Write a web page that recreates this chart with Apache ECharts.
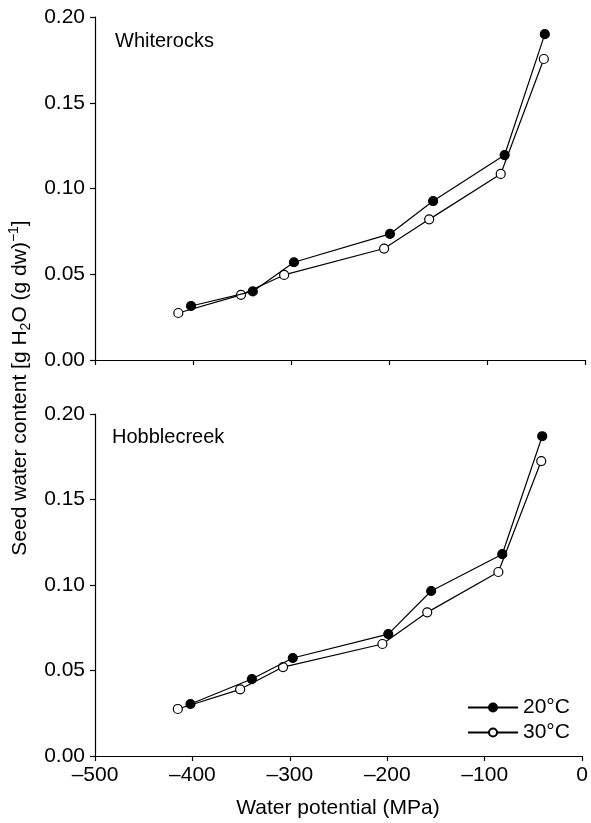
<!DOCTYPE html>
<html>
<head>
<meta charset="utf-8">
<script src="https://cdn.jsdelivr.net/npm/echarts@6/dist/echarts.min.js"></script>
<style>
  html, body { margin: 0; padding: 0; background: #fff; }
  #chart { width: 591px; height: 823px; }
</style>
</head>
<body>
<div id="chart"></div>
<script>
// water potential (MPa)
const potential20 = [-402, -339, -297, -199, -155, -82, -41]
const potential30 = [-415, -351, -307, -205, -159, -86, -42]

// Whiterocks
const white20 = [0.0315, 0.040, 0.057, 0.0735, 0.0927, 0.1195, 0.190]
const white30 = [0.0274, 0.038, 0.0496, 0.065, 0.082, 0.1085, 0.1755]

// Hobblecreek
const hobble20 = [0.0304, 0.045, 0.0573, 0.0713, 0.0965, 0.118, 0.187]
const hobble30 = [0.0275, 0.039, 0.052, 0.0655, 0.084, 0.1076, 0.1725]

const seriesNames = ['20°C', '30°C']
const panelNames = ['Whiterocks', 'Hobblecreek']

const font = 'Liberation Sans, Arial, sans-serif'

function pairs(xs, ys) {
  return xs.map((x, i) => [x, ys[i]])
}

function xAxis(idx, showLabel) {
  return {
    type: 'value',
    gridIndex: idx,
    position: 'bottom',
    min: -500,
    max: 0,
    interval: 100,
    splitLine: { show: false },
    axisLine: { onZero: false, lineStyle: { color: '#000', width: 1.2 } },
    axisTick: { length: 5, lineStyle: { color: '#000', width: 1.2 } },
    axisLabel: {
      show: showLabel,
      color: '#000',
      fontSize: 21,
      fontFamily: font,
      margin: 9,
      formatter: v => String(v).replace('-', '\u2013')
    }
  }
}

function yAxis(idx) {
  return {
    type: 'value',
    gridIndex: idx,
    position: 'left',
    min: 0,
    max: 0.2,
    interval: 0.05,
    splitLine: { show: false },
    axisLine: { onZero: false, lineStyle: { color: '#000', width: 1.2 } },
    axisTick: { length: 5, lineStyle: { color: '#000', width: 1.2 } },
    axisLabel: {
      color: '#000',
      fontSize: 21,
      fontFamily: font,
      margin: 10,
      formatter: v => v.toFixed(2)
    }
  }
}

function line(name, idx, data, filled) {
  return {
    name: name,
    type: 'line',
    xAxisIndex: idx,
    yAxisIndex: idx,
    data: data,
    symbol: 'circle',
    symbolSize: 9,
    showSymbol: true,
    lineStyle: { color: '#000', width: 1.2 },
    itemStyle: { color: filled ? '#000' : '#fff', borderColor: '#000', borderWidth: 1.2 },
    emphasis: { disabled: true },
    z: filled ? 3 : 2
  }
}

const chart = echarts.init(document.getElementById('chart'))

chart.setOption({
  backgroundColor: '#fff',
  animation: false,
  textStyle: { fontFamily: font },
  grid: [
    { left: 95, top: 17, width: 490, height: 343 },
    { left: 95, top: 414, width: 490, height: 342 }
  ],
  xAxis: [xAxis(0, false), xAxis(1, true)],
  yAxis: [yAxis(0), yAxis(1)],
  legend: {
    data: seriesNames,
    orient: 'vertical',
    left: 462,
    top: 692,
    itemWidth: 50,
    itemHeight: 10,
    itemGap: 4,
    textStyle: { color: '#000', fontSize: 21, fontFamily: font }
  },
  graphic: [
    {
      type: 'text', left: 115, top: 31,
      style: { text: panelNames[0], fill: '#000', fontSize: 20, fontFamily: font }
    },
    {
      type: 'text', left: 112, top: 427,
      style: { text: panelNames[1], fill: '#000', fontSize: 20, fontFamily: font }
    },
    {
      type: 'text', x: 338, y: 808,
      style: {
        text: 'Water potential (MPa)', fill: '#000', fontSize: 21, fontFamily: font,
        align: 'center', verticalAlign: 'middle'
      }
    },
    {
      type: 'text', x: 20, y: 388, rotation: Math.PI / 2,
      style: {
        text: '{n|Seed water content [g H}{s|2}{n|O (g dw)}{p|\u22121}{n|]}',
        fill: '#000', fontFamily: font,
        align: 'center', verticalAlign: 'middle',
        rich: {
          n: { fontSize: 21, fontFamily: font, fill: '#000' },
          s: { fontSize: 14, fontFamily: font, fill: '#000', padding: [12, 0, 0, 0] },
          p: { fontSize: 14, fontFamily: font, fill: '#000', padding: [0, 0, 12, 0] }
        }
      }
    }
  ],
  series: [
    line(seriesNames[1], 0, pairs(potential30, white30), false),
    line(seriesNames[0], 0, pairs(potential20, white20), true),
    line(seriesNames[1], 1, pairs(potential30, hobble30), false),
    line(seriesNames[0], 1, pairs(potential20, hobble20), true)
  ]
})
</script>
</body>
</html>
